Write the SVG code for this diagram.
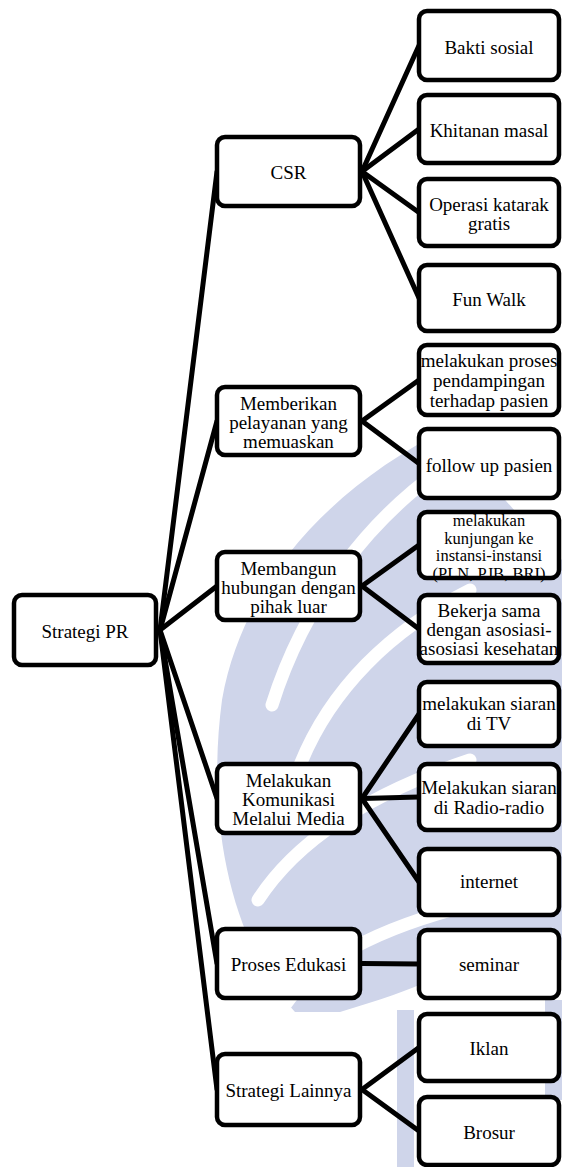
<svg xmlns="http://www.w3.org/2000/svg" width="562" height="1167" viewBox="0 0 562 1167">
<style>
.box{fill:#ffffff;stroke:#000000;stroke-width:4.5}
.t{font-family:"Liberation Serif","Times New Roman",serif;font-size:19px;fill:#000000;text-anchor:middle}
.s{font-size:16.5px}
.c{stroke:#000000;stroke-width:5;fill:none;stroke-linecap:round}
.wm{fill:#cfd5ea}
.ws{fill:none;stroke:#ffffff;stroke-width:13;stroke-linecap:round}
</style>
<rect x="0" y="0" width="562" height="1167" fill="#ffffff"/>
<g id="watermark">
<path class="wm" d="M 445 430 C 345 480 245 570 222 700 C 206 820 230 940 295 1012 L 340 1012 C 380 1000 410 990 430 980 L 562 960 L 562 560 C 520 520 480 470 445 430 Z"/>
<path class="ws" d="M 440 470 C 370 520 305 600 272 705"/>
<path class="ws" d="M 470 590 C 390 630 330 690 300 765"/>
<path class="ws" d="M 470 760 C 380 790 300 835 258 900"/>
<path class="ws" d="M 470 905 C 390 925 320 955 285 1005"/>
<rect class="wm" x="397" y="1010" width="17" height="157"/>
<rect class="wm" x="545" y="1000" width="17" height="100"/>
</g>
<g id="connectors">
<path class="c" d="M160 630 L217 171.5"/>
<path class="c" d="M160 630 L217 421"/>
<path class="c" d="M160 630 L217 586"/>
<path class="c" d="M160 630 L217 798.5"/>
<path class="c" d="M160 630 L217 963.5"/>
<path class="c" d="M160 630 L217 1089.5"/>
<path class="c" d="M362 171.5 L419 45.5"/>
<path class="c" d="M362 171.5 L419 129"/>
<path class="c" d="M362 171.5 L419 212.5"/>
<path class="c" d="M362 171.5 L419 298"/>
<path class="c" d="M362 421 L419 380"/>
<path class="c" d="M362 421 L419 463.5"/>
<path class="c" d="M362 586 L419 545"/>
<path class="c" d="M362 586 L419 629"/>
<path class="c" d="M362 798.5 L419 714"/>
<path class="c" d="M362 798.5 L419 797"/>
<path class="c" d="M362 798.5 L419 882"/>
<path class="c" d="M362 963.5 L419 964"/>
<path class="c" d="M362 1089.5 L419 1047.5"/>
<path class="c" d="M362 1089.5 L419 1131"/>
</g>
<g id="n-strategi-pr"><rect class="box" x="14" y="595" width="142" height="70" rx="8"/><text class="t" x="85" y="637.5">Strategi PR</text></g>
<g id="n-csr"><rect class="box" x="217" y="137" width="143" height="69" rx="8"/><text class="t" x="288.5" y="179">CSR</text></g>
<g id="n-memberikan"><rect class="box" x="217" y="387" width="143" height="68" rx="8"/><text class="t" x="288.5" y="409.5">Memberikan</text><text class="t" x="288.5" y="428.5">pelayanan yang</text><text class="t" x="288.5" y="447.5">memuaskan</text></g>
<g id="n-membangun"><rect class="box" x="217" y="552" width="143" height="68" rx="8"/><text class="t" x="288.5" y="574.5">Membangun</text><text class="t" x="288.5" y="593.5">hubungan dengan</text><text class="t" x="288.5" y="612.5">pihak luar</text></g>
<g id="n-komunikasi"><rect class="box" x="217" y="764" width="143" height="69" rx="8"/><text class="t" x="288.5" y="787">Melakukan</text><text class="t" x="288.5" y="806">Komunikasi</text><text class="t" x="288.5" y="825">Melalui Media</text></g>
<g id="n-edukasi"><rect class="box" x="217" y="929" width="143" height="69" rx="8"/><text class="t" x="288.5" y="971">Proses Edukasi</text></g>
<g id="n-lainnya"><rect class="box" x="217" y="1054" width="143" height="71" rx="8"/><text class="t" x="288.5" y="1097">Strategi Lainnya</text></g>
<g id="n-bakti"><rect class="box" x="419" y="11" width="140" height="69" rx="8"/><text class="t" x="489" y="53.5">Bakti sosial</text></g>
<g id="n-khitanan"><rect class="box" x="419" y="95" width="140" height="68" rx="8"/><text class="t" x="489" y="137">Khitanan masal</text></g>
<g id="n-katarak"><rect class="box" x="419" y="179" width="140" height="67" rx="8"/><text class="t" x="489" y="210.5">Operasi katarak</text><text class="t" x="489" y="230">gratis</text></g>
<g id="n-funwalk"><rect class="box" x="419" y="265" width="140" height="66" rx="8"/><text class="t" x="489" y="306">Fun Walk</text></g>
<g id="n-pendampingan"><rect class="box" x="419" y="345" width="140" height="70" rx="8"/><text class="t" x="489" y="367">melakukan proses</text><text class="t" x="489" y="387">pendampingan</text><text class="t" x="489" y="407">terhadap pasien</text></g>
<g id="n-followup"><rect class="box" x="419" y="429" width="140" height="69" rx="8"/><text class="t" x="489" y="471.5">follow up pasien</text></g>
<g id="n-kunjungan"><rect class="box" x="419" y="512" width="140" height="66" rx="8"/><text class="t s" x="489" y="526">melakukan</text><text class="t s" x="489" y="543.5">kunjungan ke</text><text class="t s" x="489" y="561">instansi-instansi</text><text class="t s" x="489" y="578.5">(PLN, PJB, BRI)</text></g>
<g id="n-bekerja"><rect class="box" x="419" y="595" width="140" height="68" rx="8"/><text class="t" x="489" y="617">Bekerja sama</text><text class="t" x="489" y="636">dengan asosiasi-</text><text class="t" x="489" y="655">asosiasi kesehatan</text></g>
<g id="n-tv"><rect class="box" x="419" y="682" width="140" height="64" rx="8"/><text class="t" x="489" y="710">melakukan siaran</text><text class="t" x="489" y="730">di TV</text></g>
<g id="n-radio"><rect class="box" x="419" y="764" width="140" height="66" rx="8"/><text class="t" x="489" y="794">Melakukan siaran</text><text class="t" x="489" y="813.5">di Radio-radio</text></g>
<g id="n-internet"><rect class="box" x="419" y="849" width="140" height="66" rx="8"/><text class="t" x="489" y="888">internet</text></g>
<g id="n-seminar"><rect class="box" x="419" y="930" width="140" height="68" rx="8"/><text class="t" x="489" y="971">seminar</text></g>
<g id="n-iklan"><rect class="box" x="419" y="1014" width="140" height="67" rx="8"/><text class="t" x="489" y="1055">Iklan</text></g>
<g id="n-brosur"><rect class="box" x="419" y="1097" width="140" height="68" rx="8"/><text class="t" x="489" y="1138.5">Brosur</text></g>
</svg>
